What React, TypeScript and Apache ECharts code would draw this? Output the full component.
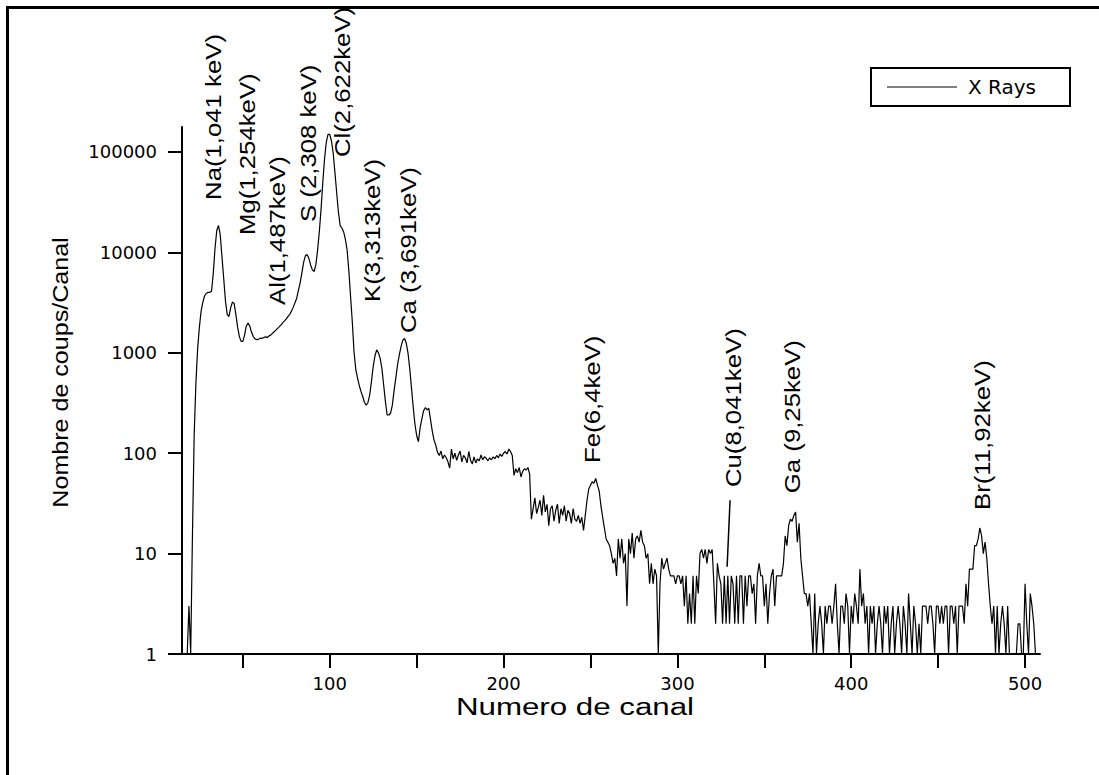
import React, { useEffect, useRef } from 'react';
import * as echarts from 'echarts';

// Spectrum: counts per channel, starting at channel FIRST_CHANNEL
const FIRST_CHANNEL = 17;
const counts = [
  1, 1, 3, 1,
  15, 150, 500, 1100, 1800, 2600, 3200, 3700, 3900, 4000,
  4000, 4100, 6200, 11000, 16500, 18500, 15000, 9000, 5500, 3300,
  2400, 2300, 2800, 3200, 3100, 2400, 1800, 1450, 1300, 1300,
  1500, 1850, 1980, 1850, 1600, 1450, 1380, 1350, 1360, 1400,
  1390, 1420, 1440, 1420, 1470, 1500, 1560, 1620, 1680, 1750,
  1820, 1900, 2000, 2080, 2180, 2300, 2420, 2600, 2850, 3150,
  3500, 4200, 5000, 6300, 8000, 9300, 9500, 8700, 7500, 6700,
  6450, 7500, 10500, 16000, 27000, 50000, 85000, 125000, 150000, 150000,
  128000, 97000, 62000, 39000, 25000, 18500, 17500, 16000, 13500, 10500,
  6500, 3600, 2000, 1000, 680, 560, 470, 410, 365, 320,
  300, 320, 380, 520, 730, 930, 1070, 1000, 880, 700,
  480, 330, 240, 240, 250, 300, 420, 560, 760, 950,
  1150, 1330, 1390, 1250, 1000, 700, 450, 290, 195, 150,
  130, 180, 220, 265, 285, 270, 280, 215, 165, 135,
  120, 102, 95, 105, 88, 96, 90, 82, 71, 110,
  88, 100, 85, 96, 105, 82, 95, 90, 80, 104,
  85, 78, 92, 80, 88, 84, 96, 86, 92, 89,
  84, 90, 86, 92, 88, 95, 90, 98, 93, 100,
  104, 98, 110, 104, 95, 60, 70, 64, 72, 58,
  66, 70, 68, 72, 62, 22, 28, 36, 25, 29,
  34, 24, 38, 26, 31, 19, 28, 30, 21, 27,
  31, 20, 28, 24, 30, 21, 27, 25, 20, 28,
  22, 21, 24, 20, 23, 17, 24, 34, 44, 48,
  52, 50, 56, 48, 42, 30, 23, 18, 14, 13,
  12, 10, 8, 9, 6, 14, 9, 14, 8, 10,
  3, 14, 10, 16, 9, 14, 15, 13, 17, 13,
  12, 9, 10, 5, 8, 5, 7, 6, 1, 5,
  9, 7, 8, 9, 7, 6, 6, 6, 5, 6,
  6, 5, 6, 3, 6, 2, 4, 2, 6, 2,
  6, 4, 10, 11, 9, 11, 8, 11, 10, 11,
  5, 2, 8, 6, 5, 2, 6, 2, 6, 2,
  6, 5, 2, 6, 2, 6, 6, 2, 6, 3,
  6, 6, 4, 5, 2, 6, 8, 6, 6, 3,
  5, 2, 4, 6, 7, 3, 6, 6, 6, 6,
  8, 15, 12, 19, 22, 21, 24, 26, 13, 20,
  9, 6, 4, 4, 3, 4, 2, 1, 4, 1,
  2, 3, 2, 1, 3, 2, 3, 3, 2, 3,
  5, 2, 1, 3, 3, 2, 4, 3, 1, 3,
  2, 4, 3, 2, 7, 3, 4, 2, 3, 1,
  3, 2, 3, 1, 2, 3, 2, 1, 3, 2,
  3, 1, 2, 3, 1, 2, 3, 2, 1, 3,
  2, 1, 4, 2, 1, 3, 2, 1, 2, 1,
  3, 3, 3, 2, 3, 3, 2, 1, 3, 3,
  2, 3, 2, 3, 3, 1, 3, 3, 2, 3,
  1, 3, 3, 3, 2, 5, 3, 7, 7, 7,
  12, 12, 14, 18, 15, 10, 13, 9, 5, 3,
  2, 3, 1, 3, 1, 2, 3, 2, 1, 3,
  1, 1, 1, 1, 1, 2, 2, 1, 1, 5,
  2, 1, 4, 3, 2, 1,
];

const channelTicks = [50, 100, 150, 200, 250, 300, 350, 400, 450, 500];
const channelLabels = [100, 200, 300, 400, 500];
const countTicks = [1, 10, 100, 1000, 10000, 100000];

// Element lines: label text and the [channel, counts] point where each label starts
const peakNames = [
  'Na(1,o41 keV)', 'Mg(1,254keV)', 'Al(1,487keV)', 'S (2,308 keV)', 'Cl(2,622keV)',
  'K(3,313keV)', 'Ca (3,691keV)', 'Fe(6,4keV)', 'Cu(8,041keV)', 'Ga (9,25keV)', 'Br(11,92keV)',
];
const peakChannels = [32.8, 52.4, 69.7, 87.5, 107.1, 124.3, 145, 250.9, 332, 366, 475.3];
const peakLabelCounts = [33300, 14900, 2990, 20100, 89100, 3210, 1575, 80, 46, 40, 27.2];

// Leader line from the Cu label down to the spectrum
const cuLeaderChannels = [330.3, 328.6];
const cuLeaderCounts = [34, 7.4];

const X_MIN = 15;
const X_MAX = 508.6;
const Y_MAX = 177400;

export default function App() {
  const ref = useRef<HTMLDivElement>(null);

  useEffect(() => {
    if (!ref.current) return;
    const chart = echarts.init(ref.current, null, { renderer: 'svg' });
    const data = counts.map((v, i) => [FIRST_CHANNEL + i, v]);
    const tickFont = 'DejaVu Sans';

    chart.setOption({
      animation: false,
      backgroundColor: '#fff',
      grid: { left: 182, right: 59, top: 127, bottom: 121 },
      legend: {
        left: 871,
        top: 68,
        icon: 'rect',
        itemWidth: 70,
        itemHeight: 2,
        padding: [8, 6, 8, 16],
        borderColor: '#000',
        borderWidth: 2,
        itemStyle: { color: '#808080', borderWidth: 0 },
        textStyle: {
          color: '#000',
          fontSize: 20,
          lineHeight: 22,
          fontFamily: tickFont,
          width: 96,
          padding: [0, 0, 0, 6],
        },
        data: ['X Rays'],
      },
      xAxis: {
        type: 'value',
        min: X_MIN,
        max: X_MAX,
        axisLine: { lineStyle: { color: '#000', width: 2 } },
        axisTick: {
          length: 14,
          customValues: channelTicks,
          lineStyle: { color: '#000', width: 2 },
        },
        axisLabel: {
          customValues: channelLabels,
          margin: 20,
          color: '#000',
          fontSize: 18,
          fontFamily: tickFont,
        },
        splitLine: { show: false },
      },
      yAxis: {
        type: 'log',
        logBase: 10,
        min: 1,
        max: Y_MAX,
        axisLine: { show: true, lineStyle: { color: '#000', width: 2 } },
        axisTick: {
          show: true,
          length: 14,
          customValues: countTicks,
          lineStyle: { color: '#000', width: 2 },
        },
        axisLabel: {
          customValues: countTicks,
          margin: 25,
          color: '#000',
          fontSize: 18,
          fontFamily: tickFont,
          formatter: (v: number) => String(Math.round(v)),
        },
        splitLine: { show: false },
        minorTick: { show: false },
      },
      series: [
        {
          type: 'line',
          name: 'X Rays',
          data,
          showSymbol: false,
          symbol: 'none',
          lineStyle: { color: '#000', width: 1.2 },
          itemStyle: { color: '#000' },
        },
      ],
    });

    const annotations: any[] = peakNames.map((name, i) => {
      const [px, py] = chart.convertToPixel({ gridIndex: 0 }, [peakChannels[i], peakLabelCounts[i]]);
      return {
        type: 'text',
        x: px,
        y: py,
        rotation: Math.PI / 2,
        scaleX: 1.17,
        z: 10,
        style: {
          text: name,
          fontSize: 22,
          fontFamily: 'Liberation Sans',
          fill: '#000',
          align: 'left',
          verticalAlign: 'middle',
        },
      };
    });

    const [l1x, l1y] = chart.convertToPixel({ gridIndex: 0 }, [cuLeaderChannels[0], cuLeaderCounts[0]]);
    const [l2x, l2y] = chart.convertToPixel({ gridIndex: 0 }, [cuLeaderChannels[1], cuLeaderCounts[1]]);

    chart.setOption({
      graphic: [
        {
          type: 'rect',
          z: 20,
          shape: { x: 7.5, y: 7.5, width: 1200, height: 900 },
          style: { fill: 'none', stroke: '#000', lineWidth: 3 },
        },
        ...annotations,
        {
          type: 'line',
          z: 10,
          shape: { x1: l1x, y1: l1y, x2: l2x, y2: l2y },
          style: { stroke: '#000', lineWidth: 1.5 },
        },
        {
          type: 'text',
          x: 61,
          y: 372.5,
          rotation: Math.PI / 2,
          scaleX: 1.14,
          style: {
            text: 'Nombre de coups/Canal',
            fontSize: 22,
            fontFamily: 'Liberation Sans',
            fill: '#000',
            align: 'center',
            verticalAlign: 'middle',
          },
        },
        {
          type: 'text',
          x: 575,
          y: 707,
          scaleX: 1.36,
          style: {
            text: 'Numero de canal',
            fontSize: 23,
            fontFamily: 'Liberation Sans',
            fill: '#000',
            align: 'center',
            verticalAlign: 'middle',
          },
        },
      ],
    });

    return () => chart.dispose();
  }, []);

  return (
    <div
      ref={ref}
      style={{ position: 'fixed', left: 0, top: 0, width: 1099, height: 775 }}
    />
  );
}
